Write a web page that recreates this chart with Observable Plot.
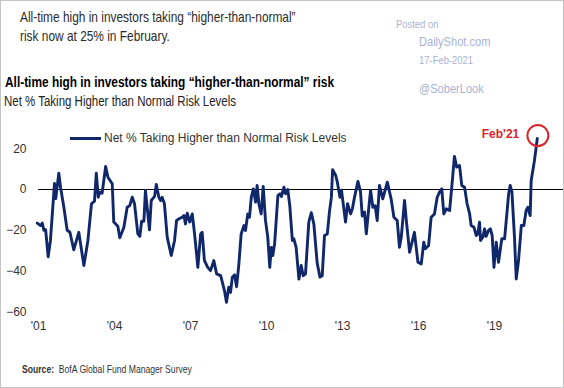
<!DOCTYPE html>
<html>
<head>
<meta charset="utf-8">
<script src="https://cdn.jsdelivr.net/npm/d3@7"></script>
<script src="https://cdn.jsdelivr.net/npm/@observablehq/plot@0.6"></script>
<style>
  html, body { margin: 0; padding: 0; background: #fff; }
  #frame { position: relative; width: 564px; height: 388px; overflow: hidden; background: #fff; font-family: "Liberation Sans", Arial, sans-serif; color: #222; }
  #border { position: absolute; inset: 0; border: 1px solid #c4c4c4; pointer-events: none; }
  .abs { position: absolute; white-space: nowrap; }
  .narrow { transform: scaleX(0.82); transform-origin: 0 50%; }
  #headline { left: 20px; top: 8px; font-size: 14.5px; line-height: 19px; color: #2b2b2b; }
  #title { left: 5px; top: 73px; font-size: 14.5px; line-height: 19px; font-weight: bold; color: #000; }
  #subtitle { left: 4px; top: 92px; font-size: 14px; line-height: 19px; color: #222; }
  .wm { color: #a9b2d4; }
  #chart { position: absolute; left: 0; top: 112px; }
  #legend { left: 70px; top: 129px; height: 18px; display: flex; align-items: center; font-size: 12px; color: #333; }
  #legend .sw { width: 31px; height: 3px; background: #10286b; margin-right: 3px; }
  #source { left: 22px; top: 362px; font-size: 10.5px; line-height: 14px; color: #333; }
</style>
</head>
<body>
<div id="frame">
  <div id="headline" class="abs narrow"></div>
  <div id="title" class="abs narrow"></div>
  <div id="subtitle" class="abs narrow"></div>
  <div id="wm1" class="abs wm narrow" style="left:396px;top:18px;font-size:11.5px;">Posted on</div>
  <div id="wm2" class="abs wm narrow" style="left:419px;top:34px;font-size:13.5px;">DailyShot.com</div>
  <div id="wm3" class="abs wm narrow" style="left:419px;top:54px;font-size:11.5px;">17-Feb-2021</div>
  <div id="wm4" class="abs wm narrow" style="left:419px;top:81px;font-size:13.5px;">@SoberLook</div>
  <div id="chart"></div>
  <div id="legend" class="abs"><div class="sw"></div><span id="legendText"></span></div>
  <div id="source" class="abs narrow"><b>Source:</b>&nbsp; BofA Global Fund Manager Survey</div>
  <div id="border"></div>
</div>
<script>
const headline = ["All-time high in investors taking “higher-than-normal”", "risk now at 25% in February."];
const chartTitle = "All-time high in investors taking “higher-than-normal” risk";
const chartSubtitle = "Net % Taking Higher than Normal Risk Levels";
const seriesName = "Net % Taking Higher than Normal Risk Levels";
const annotationLabel = "Feb'21";

const years = [
  2000.95, 2001.08, 2001.15, 2001.21, 2001.28, 2001.38, 2001.47, 2001.63, 2001.68, 2001.80,
  2001.87, 2002.00, 2002.13, 2002.24, 2002.39, 2002.59, 2002.79, 2002.95, 2003.09, 2003.21,
  2003.28, 2003.36, 2003.41, 2003.51, 2003.65, 2003.74, 2003.91, 2003.97, 2004.13, 2004.21,
  2004.37, 2004.50, 2004.60, 2004.70, 2004.79, 2004.92, 2005.00, 2005.07, 2005.16, 2005.22,
  2005.38, 2005.45, 2005.58, 2005.65, 2005.75, 2005.82, 2005.88, 2005.97, 2006.08, 2006.24,
  2006.37, 2006.45, 2006.54, 2006.67, 2006.74, 2006.80, 2006.87, 2006.97, 2007.07, 2007.16,
  2007.29, 2007.40, 2007.46, 2007.55, 2007.68, 2007.79, 2007.92, 2008.03, 2008.19, 2008.34,
  2008.42, 2008.51, 2008.58, 2008.65, 2008.74, 2008.82, 2008.91, 2009.00, 2009.11, 2009.17,
  2009.26, 2009.33, 2009.40, 2009.48, 2009.57, 2009.63, 2009.70, 2009.79, 2009.87, 2009.96,
  2010.05, 2010.13, 2010.19, 2010.25, 2010.32, 2010.45, 2010.53, 2010.59, 2010.69, 2010.75,
  2010.84, 2010.92, 2011.02, 2011.08, 2011.17, 2011.28, 2011.37, 2011.45, 2011.54, 2011.67,
  2011.77, 2011.87, 2012.00, 2012.11, 2012.20, 2012.29, 2012.40, 2012.49, 2012.56, 2012.61,
  2012.73, 2012.79, 2012.90, 2012.96, 2013.05, 2013.12, 2013.20, 2013.32, 2013.39, 2013.48,
  2013.61, 2013.71, 2013.78, 2013.87, 2013.94, 2014.07, 2014.11, 2014.20, 2014.29, 2014.37,
  2014.46, 2014.59, 2014.77, 2014.92, 2015.03, 2015.16, 2015.25, 2015.32, 2015.45, 2015.52,
  2015.65, 2015.84, 2015.98, 2016.11, 2016.21, 2016.27, 2016.40, 2016.50, 2016.63, 2016.74,
  2016.83, 2016.92, 2017.00, 2017.10, 2017.23, 2017.32, 2017.42, 2017.51, 2017.62, 2017.71,
  2017.82, 2017.92, 2018.02, 2018.08, 2018.19, 2018.28, 2018.34, 2018.41, 2018.45, 2018.54,
  2018.61, 2018.67, 2018.77, 2018.84, 2018.91, 2018.98, 2019.07, 2019.16, 2019.29, 2019.40,
  2019.56, 2019.62, 2019.69, 2019.79, 2019.86, 2019.95, 2020.06, 2020.16, 2020.25, 2020.32,
  2020.41, 2020.45, 2020.58, 2020.69
];
const values = [
  -16.5, -17.7, -16.5, -20, -19.7, -33, -25, 3, -4.5, 8,
  1, -8.7, -20, -21, -29.6, -21, -37.3, -25, -7, -5.7,
  8, -3.8, -1.3, -1.8, 11.3, 6, 2.8, -16, -18, -23.7,
  -18.5, -8.7, -7.9, -3.8, -7, -21.8, -23, -15.6, -15.6, -0.5,
  -19.8, -5.4, -3.4, 2.5, -3.8, -5.4, -3.8, -7, -23.4, -32.4,
  -25, -15.2, -14.4, -13.6, -12.8, -16.9, -11.6, -16, -12, -21.8,
  -38.2, -21.8, -21, -34.9, -38.2, -39.8, -34.9, -41.4, -42.3, -49.6,
  -55.4, -48, -50.5, -43.1, -41.9, -47.7, -36.5, -21.8, -17.7, -20.1,
  -12, -13.6, -3.8, 0.3, -6.2, 2, -7, -12, 1.5, -15.2,
  -23.4, -38.2, -28.4, -32.4, -26.7, -3, -2.1, -3.4, 1.1, -2.1,
  0, -8, -25, -24.2, -28.4, -44, -37.3, -42.3, -41.4, -16,
  -11.4, -17, -36, -43, -42.3, -22.6, -21.8, -10.5, -4, 9.7,
  7, 4, -3.8, -0.3, -9, -16, -7, -12, -9.5, -3.5,
  4, -1, -13, -11, -21.8, -5, -0.5, -8.7, -8, -15.2,
  2, -4.6, 3.6, -4.6, -13.6, -15.2, -28.4, -23.4, -5.4, -15.2,
  -30.8, -21, -35.7, -36.5, -25.9, -29.1, -27.5, -13.6, -12, -3.8,
  -1.3, 0.3, -12, -9.5, -10.3, 2, 16.2, 11, 11.8, 2,
  1.1, -7, -12, -17.7, -18.5, -22.6, -21.8, -16, -25, -23.4,
  -19.3, -23, -20, -19.3, -22.6, -38.2, -25.9, -35.7, -24.2, -24.2,
  -2.1, 2, -1.3, -23.4, -43.9, -34.9, -17.7, -17.7, -10.3, -8.7,
  -12.8, 4.4, 14.3, 25
];
const xTicks = [2001, 2004, 2007, 2010, 2013, 2016, 2019, 2022];
const yTicks = [-60, -40, -20, 0, 20];
const xDomain = [2000.9, 2021.765];
const yDomain = [-60, 30];

const data = years.map((yr, i) => ({year: yr, value: values[i]}));
const last = data[data.length - 1];

document.getElementById("headline").innerHTML = headline.join("<br>");
document.getElementById("title").textContent = chartTitle;
document.getElementById("subtitle").textContent = chartSubtitle;
document.getElementById("legendText").textContent = seriesName;

const navy = "#10286b";
const red = "#d8262b";

const chart = Plot.plot({
  width: 564,
  height: 232,
  marginLeft: 35.5,
  marginRight: 0,
  marginTop: 15.875,
  marginBottom: 32.75,
  style: {fontFamily: "Liberation Sans, Arial, sans-serif", fontSize: "12px", color: "#333", background: "transparent"},
  x: {domain: xDomain},
  y: {domain: yDomain},
  marks: [
    Plot.axisX({ticks: xTicks, tickSize: 0, tickPadding: 9.5, tickFormat: d => "'" + String(d).slice(2), label: null}),
    Plot.axisY({ticks: yTicks, tickSize: 0, tickPadding: 9.5, label: null}),
    Plot.ruleY([0], {x1: 2001, x2: xDomain[1], stroke: "#000", strokeWidth: 1}),
    Plot.line(data, {x: "year", y: "value", stroke: navy, strokeWidth: 2.9, strokeLinejoin: "round", strokeLinecap: "round"}),
    Plot.dot([last], {x: "year", y: "value", r: 10.5, stroke: red, strokeWidth: 2, fill: "none", dy: -3, dx: 0.6}),
    Plot.text([last], {x: "year", y: "value", text: () => annotationLabel, textAnchor: "end", dx: -18, dy: -4, fill: red, fontWeight: "bold", fontSize: 12})
  ]
});
document.getElementById("chart").appendChild(chart);
</script>
</body>
</html>
